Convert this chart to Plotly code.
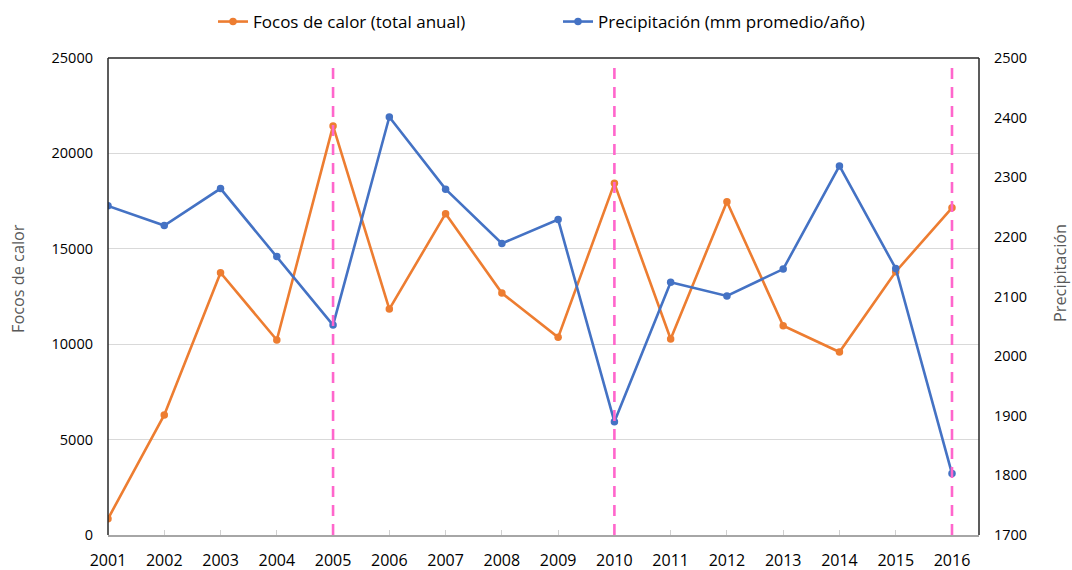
import plotly.graph_objects as go

years = list(range(2001, 2017))
focos = [850, 6290, 13750, 10220, 21440, 11840, 16840, 12680, 10360, 18430,
         10270, 17470, 10970, 9590, 13800, 17150]
precip = [2252, 2219, 2281, 2167, 2052, 2401, 2280, 2189, 2229, 1890,
          2124, 2101, 2146, 2319, 2147, 1803]
event_years = [2005, 2010, 2016]

ORANGE = "#ED7D31"
BLUE = "#4472C4"
PINK = "#FF66CC"
FONT = "Open Sans"

W, H = 1072, 570
L, T = 108, 58
R = W - 979
B = H - 535
pw = W - L - R
ph = H - T - B

def px_x(x):
    return (x - L) / pw

def px_y(y):
    return (H - B - y) / ph

fig = go.Figure()
fig.add_trace(go.Scatter(
    x=years, y=focos, name="Focos de calor (total anual)", mode="lines+markers",
    line=dict(color=ORANGE, width=2.6), marker=dict(size=7.5, color=ORANGE),
    yaxis="y"))
fig.add_trace(go.Scatter(
    x=years, y=precip, name="Precipitación (mm promedio/año)", mode="lines+markers",
    line=dict(color=BLUE, width=2.6), marker=dict(size=7.5, color=BLUE),
    yaxis="y2"))

shapes = []
for yr in event_years:
    shapes.append(dict(type="line", xref="x", yref="y domain", x0=yr, x1=yr,
                       y0=0, y1=0.983, line=dict(color=PINK, width=2.6, dash="11px,8px"),
                       layer="above"))
# plot frame (top, left, right)
for (x0, y0, x1, y1) in [(0, 1, 1, 1), (0, 0, 0, 1), (1, 0, 1, 1)]:
    shapes.append(dict(type="line", xref="x domain", yref="y domain",
                       x0=x0, y0=y0, x1=x1, y1=y1,
                       line=dict(color="#262626", width=1.5), layer="above"))

fig.update_layout(
    width=W, height=H,
    margin=dict(l=L, r=R, t=T, b=B, autoexpand=False),
    paper_bgcolor="white", plot_bgcolor="white",
    font=dict(family=FONT, color="#000000"),
    showlegend=True,
    legend=dict(orientation="h", x=px_x(213), xanchor="left", y=px_y(4), yanchor="top",
                font=dict(family=FONT, size=17, color="#000"),
                entrywidth=300, itemwidth=30, bgcolor="rgba(0,0,0,0)"),
    shapes=shapes,
    xaxis=dict(range=[2001, 2016.48], tickmode="array", tickvals=years,
               ticktext=[str(y) for y in years], showgrid=False, zeroline=False,
               showline=True, linecolor="#A6A6A6", linewidth=2, automargin=False,
               ticks="inside", ticklen=5, tickcolor="#D0D0D0", tickwidth=1,
               tickfont=dict(size=16, color="#000"), ticklabelstandoff=10),
    yaxis=dict(range=[0, 25000], dtick=5000, tickformat="d", showgrid=True,
               gridcolor="#D9D9D9", gridwidth=1, zeroline=False, showline=False,
               automargin=False,
               tickfont=dict(size=14.5, color="#000"), ticklabelstandoff=14),
    yaxis2=dict(range=[1700, 2500], dtick=100, tickformat="d", overlaying="y",
                side="right", showgrid=False, zeroline=False, showline=False,
                automargin=False,
                tickfont=dict(size=14.5, color="#000"), ticklabelstandoff=14),
    annotations=[
        dict(text="Focos de calor", x=px_x(18), y=px_y(279), xref="paper", yref="paper",
             xanchor="center", yanchor="middle",
             showarrow=False, textangle=-90, font=dict(size=16.3, color="#595959")),
        dict(text="Precipitación", x=px_x(1060), y=px_y(273), xref="paper", yref="paper",
             xanchor="center", yanchor="middle",
             showarrow=False, textangle=-90, font=dict(size=16.3, color="#595959")),
    ],
)

fig.write_html("out.html", config={"displayModeBar": False},
               post_script="document.body.style.margin='0';document.body.style.overflow='hidden';")
